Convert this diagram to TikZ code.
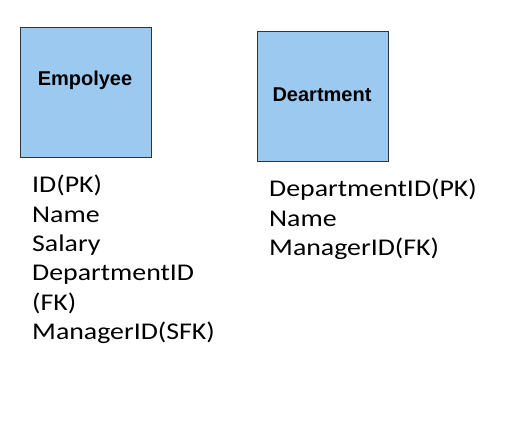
\documentclass[tikz,border=0pt]{standalone}
\usepackage{fontspec}
\setmainfont{Liberation Sans}
\newfontfamily\handfont[FakeStretch=1.16]{Carlito}
\definecolor{boxblue}{HTML}{9CC9EF}
\definecolor{boxline}{HTML}{333333}
\tikzset{
  entity/.style={draw=boxline, fill=boxblue, line width=1pt, minimum width=131pt, minimum height=130pt, inner sep=0pt, anchor=north west},
  title/.style={font=\fontsize{20}{24}\selectfont\bfseries, inner sep=0pt},
  attr/.style={font=\handfont\fontsize{24}{28}\selectfont, anchor=base west, inner sep=0pt},
}
\begin{document}
\begin{tikzpicture}[x=1pt,y=-1pt]
\useasboundingbox (0,0) rectangle (524,432);
\node[entity] (emp) at (19.5,26.5) {};
\node[title] (empt) at (85,80) {Empolyee};
\node[entity] (dep) at (256.5,30.5) {};
\node[title] (dept) at (322,95) {Deartment};
\node[attr] (e1) at (32,192.7) {ID(PK)};
\node[attr] (e2) at (32,222.1) {Name};
\node[attr] (e3) at (32,251.5) {Salary};
\node[attr] (e4) at (32,280.9) {DepartmentID};
\node[attr] (e5) at (32,310.3) {(FK)};
\node[attr] (e6) at (32,339.7) {ManagerID(SFK)};
\node[attr] (d1) at (269,196.5) {DepartmentID(PK)};
\node[attr] (d2) at (269,226) {Name};
\node[attr] (d3) at (269,255.5) {ManagerID(FK)};
\end{tikzpicture}
\end{document}
